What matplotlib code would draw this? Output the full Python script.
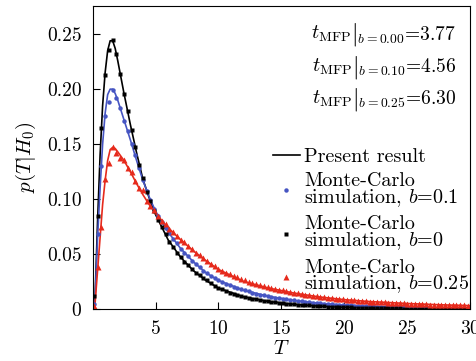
import numpy as np
import matplotlib
matplotlib.use('Agg')
import matplotlib.pyplot as plt

plt.rcParams['font.family'] = 'cmr10'
plt.rcParams['mathtext.fontset'] = 'cm'
plt.rcParams['axes.formatter.use_mathtext'] = True

# "Present result" curves
t_curve = [0, 0.2, 0.4, 0.6, 0.8, 1.0, 1.2, 1.4, 1.6, 1.8, 2.0, 2.5, 3.0, 3.5, 4.0, 4.5,
           5, 6, 7, 8, 9, 10, 12, 14, 16, 18, 20, 22, 25, 28, 30]
p_b000 = [0, 0.01, 0.08, 0.14, 0.185, 0.215, 0.235, 0.244, 0.244, 0.237, 0.226, 0.196, 0.168,
          0.142, 0.118, 0.101, 0.086, 0.063, 0.047, 0.035, 0.026, 0.019, 0.011, 0.0068, 0.0042,
          0.0026, 0.0016, 0.001, 0.0004, 0.0002, 0.0001]
p_b010 = [0, 0.008, 0.065, 0.11, 0.15, 0.178, 0.195, 0.2, 0.2, 0.196, 0.19, 0.172, 0.154,
          0.135, 0.117, 0.102, 0.089, 0.07, 0.055, 0.043, 0.033, 0.026, 0.017, 0.0115, 0.0078,
          0.0052, 0.0035, 0.0024, 0.0013, 0.0008, 0.0005]
p_b025 = [0, 0.005, 0.035, 0.065, 0.095, 0.117, 0.135, 0.145, 0.147, 0.146, 0.143, 0.135, 0.125,
          0.114, 0.104, 0.095, 0.087, 0.074, 0.063, 0.053, 0.044, 0.036, 0.025, 0.019, 0.0145,
          0.011, 0.0085, 0.0068, 0.005, 0.0037, 0.0031]

# Monte-Carlo histograms (bin centres 0.1, 0.4, ..., 29.8)
t_mc = np.round(np.arange(0.1, 30, 0.3), 2)
mc_b000 = [0.012, 0.085, 0.165, 0.213, 0.236, 0.245, 0.232, 0.214, 0.196, 0.180,
           0.163, 0.147, 0.131, 0.119, 0.106, 0.098, 0.089, 0.081, 0.075, 0.068,
           0.061, 0.056, 0.051, 0.047, 0.043, 0.040, 0.036, 0.033, 0.031, 0.028,
           0.026, 0.024, 0.021, 0.019, 0.018, 0.016, 0.015, 0.014, 0.013, 0.012,
           0.011, 0.010, 0.0095, 0.0088, 0.0082, 0.0076, 0.0070, 0.0064, 0.0060, 0.0056,
           0.0052, 0.0048, 0.0045, 0.0042, 0.0040, 0.0037, 0.0034, 0.0032, 0.0030, 0.0028,
           0.0026, 0.0024, 0.0022, 0.0021, 0.0019, 0.0018, 0.0016, 0.0015, 0.0014, 0.0013,
           0.0012, 0.0011, 0.0010, 0.0009, 0.0009, 0.0008, 0.0007, 0.0007, 0.0006, 0.0006,
           0.0005, 0.0005, 0.0004, 0.0004, 0.0004, 0.0003, 0.0003, 0.0003, 0.0003, 0.0002,
           0.0002, 0.0002, 0.0002, 0.0002, 0.0001, 0.0001, 0.0001, 0.0001, 0.0001, 0.0001]
mc_b010 = [0.005, 0.068, 0.13, 0.176, 0.188, 0.199, 0.192, 0.183, 0.171, 0.162,
           0.150, 0.140, 0.128, 0.117, 0.107, 0.099, 0.091, 0.085, 0.079, 0.074,
           0.069, 0.064, 0.060, 0.055, 0.051, 0.048, 0.044, 0.041, 0.038, 0.035,
           0.033, 0.030, 0.028, 0.026, 0.025, 0.023, 0.022, 0.020, 0.019, 0.018,
           0.017, 0.016, 0.015, 0.014, 0.0132, 0.0124, 0.0117, 0.011, 0.0104, 0.0098,
           0.0092, 0.0087, 0.0082, 0.0078, 0.0074, 0.0070, 0.0066, 0.0062, 0.0059, 0.0055,
           0.0052, 0.0049, 0.0047, 0.0044, 0.0041, 0.0039, 0.0036, 0.0034, 0.0032, 0.0031,
           0.0029, 0.0027, 0.0026, 0.0024, 0.0023, 0.0022, 0.0020, 0.0019, 0.0018, 0.0017,
           0.0016, 0.0015, 0.0014, 0.0013, 0.0013, 0.0012, 0.0011, 0.0011, 0.0010, 0.0010,
           0.0009, 0.0009, 0.0008, 0.0008, 0.0007, 0.0007, 0.0006, 0.0006, 0.0006, 0.0005]
mc_b025 = [0.003, 0.038, 0.075, 0.118, 0.133, 0.147, 0.142, 0.137, 0.136, 0.128,
           0.125, 0.116, 0.110, 0.108, 0.098, 0.094, 0.090, 0.085, 0.080, 0.077,
           0.073, 0.070, 0.066, 0.063, 0.061, 0.057, 0.055, 0.051, 0.049, 0.046,
           0.044, 0.041, 0.039, 0.036, 0.035, 0.033, 0.032, 0.030, 0.029, 0.027,
           0.026, 0.025, 0.024, 0.023, 0.022, 0.021, 0.020, 0.019, 0.018, 0.0175,
           0.017, 0.016, 0.0155, 0.0148, 0.0142, 0.0136, 0.013, 0.0124, 0.012, 0.0115,
           0.011, 0.0106, 0.0102, 0.0098, 0.0094, 0.009, 0.0087, 0.0084, 0.0081, 0.0078,
           0.0076, 0.0073, 0.0071, 0.0068, 0.0066, 0.0064, 0.0062, 0.0060, 0.0058, 0.0056,
           0.0054, 0.0053, 0.0051, 0.0050, 0.0048, 0.0047, 0.0045, 0.0044, 0.0043, 0.0041,
           0.0040, 0.0039, 0.0038, 0.0037, 0.0036, 0.0035, 0.0034, 0.0033, 0.0032, 0.0031]

mfp_labels = ['0.00', '0.10', '0.25']
mfp_values = [3.77, 4.56, 6.30]

blue = '#4655c2'
red = '#e62a1c'

fig = plt.figure(figsize=(4.77, 3.61), dpi=100)
ax = fig.add_axes([0.194, 0.144, 0.792, 0.839])

ax.plot(t_curve, p_b000, color='black', lw=1.2, label='Present result')
ax.plot(t_curve, p_b010, color=blue, lw=1.2)
ax.plot(t_curve, p_b025, color=red, lw=1.2)
ax.plot(t_mc, mc_b010, 'o', color=blue, ms=3.2, mec='none',
        label='Monte-Carlo\nsimulation, $b$=0.1')
ax.plot(t_mc, mc_b000, 's', color='black', ms=3.2, mec='none',
        label='Monte-Carlo\nsimulation, $b$=0')
ax.plot(t_mc, mc_b025, '^', color=red, ms=4, mec='none',
        label='Monte-Carlo\nsimulation, $b$=0.25')

ax.set_xlim(0, 30)
ax.set_ylim(0, 0.2755)
ax.set_xticks([5, 10, 15, 20, 25, 30])
ax.set_yticks([0, 0.05, 0.10, 0.15, 0.20, 0.25])
ax.set_yticklabels(['0', '0.05', '0.10', '0.15', '0.20', '0.25'])
ax.tick_params(direction='in', length=5, width=0.8, labelsize=14, pad=8)
ax.set_xlabel('$T$', fontsize=15, labelpad=1)
ax.set_ylabel('$p(T|H_0)$', fontsize=15, labelpad=6)

# mean first passage times, built right to left: value, tall bar, t_MFP
for i, (b, v) in enumerate(zip(mfp_labels, mfp_values)):
    y = 0.905 - i * 0.107
    rest = ax.text(0.962, y, r'$_{b=%s}$=%.2f' % (b, v), transform=ax.transAxes,
                   ha='right', va='center', fontsize=14)
    bar = ax.annotate(r'$|$', xy=(0, 0.5), xycoords=rest, xytext=(0, 0),
                      textcoords='offset points', ha='right', va='center', fontsize=17)
    ax.annotate(r'$t_{\mathrm{MFP}}$', xy=(0, 0.5), xycoords=(bar, rest),
                xytext=(0, 0.5), textcoords='offset points', ha='right', va='center',
                fontsize=14.5)

ax.legend(loc='upper left', bbox_to_anchor=(0.472, 0.54), frameon=False, fontsize=14.5,
          handlelength=1.35, handletextpad=0.2, labelspacing=0.32, borderpad=0.1,
          borderaxespad=0)
for t in ax.get_legend().get_texts():
    t.set_linespacing(0.82)

fig.savefig('out.png', dpi=100)
